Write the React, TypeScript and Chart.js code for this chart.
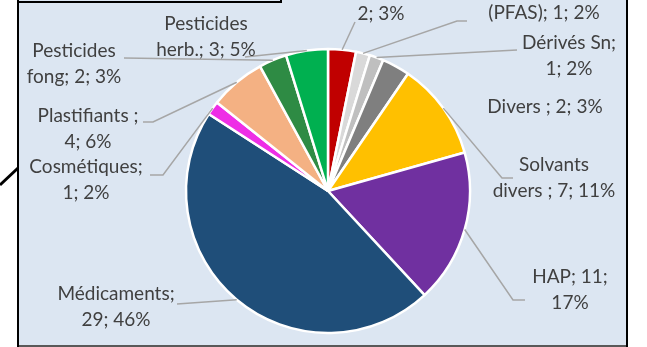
import React, { useEffect, useRef } from "react";
import { Chart, registerables } from "chart.js";

Chart.register(...registerables);

const categories = [
  "Pesticides insect.",
  "Composés perfluorés (PFAS)",
  "Dérivés Sn",
  "Divers",
  "Solvants divers",
  "HAP",
  "Médicaments",
  "Cosmétiques",
  "Plastifiants",
  "Pesticides fong",
  "Pesticides herb.",
];
const values = [2, 1, 1, 2, 7, 11, 29, 1, 4, 2, 3];
const colors = [
  "#C00000",
  "#D9D9D9",
  "#BFBFBF",
  "#7F7F7F",
  "#FFC000",
  "#7030A0",
  "#1F4E79",
  "#EE2EE6",
  "#F4B183",
  "#2E8B44",
  "#00B050",
];
const total = values.reduce((a, b) => a + b, 0);
const pct = values.map((v) => Math.round((v / total) * 100));
const labelLines: string[][] = [
  ["Pesticides insect.;", `${values[0]}; ${pct[0]}%`],
  ["Composés perfluorés", `(PFAS); ${values[1]}; ${pct[1]}%`],
  ["Dérivés Sn;", `${values[2]}; ${pct[2]}%`],
  [`Divers ; ${values[3]}; ${pct[3]}%`],
  ["Solvants", `divers ; ${values[4]}; ${pct[4]}%`],
  [`HAP; ${values[5]};`, `${pct[5]}%`],
  ["Médicaments;", `${values[6]}; ${pct[6]}%`],
  ["Cosmétiques;", `${values[7]}; ${pct[7]}%`],
  ["Plastifiants ;", `${values[8]}; ${pct[8]}%`],
  ["Pesticides", `fong; ${values[9]}; ${pct[9]}%`],
  ["Pesticides", `herb.; ${values[10]}; ${pct[10]}%`],
];

// label layout, offsets from pie centre for a reference radius of 142px
const REF_R = 142;
const labelOffsets: [number, number][] = [
  [53, -190],
  [216, -191],
  [241, -135],
  [217, -84],
  [226, -13],
  [242, 99],
  [-212, 116],
  [-242, -11],
  [-240, -62],
  [-254, -127],
  [-122, -154],
];
const leaderPoints: [number, number][][] = [
  [[27, -169]],
  [[129, -170], [139, -170]],
  [[189, -141]],
  [],
  [[174, -13], [185, -13]],
  [[185, 109], [197, 109]],
  [[-151, 113]],
  [[-165, -16], [-178, -16]],
  [[-175, -69], [-185, -69]],
  [[-204, -133]],
  [[-83, -134]],
];

const FONT = "19px Lato";
const LINE_H = 26;

const framePlugin = {
  id: "frame",
  beforeDraw(chart: any) {
    const ctx = chart.ctx as CanvasRenderingContext2D;
    const W = chart.width;
    const H = chart.height;
    ctx.save();
    ctx.fillStyle = "#ffffff";
    ctx.fillRect(0, 0, W, H);
    ctx.fillStyle = "#DCE6F2";
    ctx.fillRect(19, 0, 607, H - 2);
    ctx.fillStyle = "#595959";
    ctx.fillRect(19, H - 2, 607, 2);
    ctx.fillStyle = "#000000";
    ctx.fillRect(17, 0, 2, H);
    ctx.fillRect(626, 0, 2, H);
    ctx.strokeStyle = "#000000";
    ctx.lineWidth = 2;
    ctx.strokeRect(18, -10, 263, 12);
    ctx.lineWidth = 3;
    ctx.beginPath();
    ctx.moveTo(0, 185);
    ctx.lineTo(18, 168);
    ctx.stroke();
    ctx.restore();
  },
  afterDraw(chart: any) {
    const ctx = chart.ctx as CanvasRenderingContext2D;
    const meta = chart.getDatasetMeta(0);
    ctx.save();
    meta.data.forEach((arc: any, i: number) => {
      const p = arc.getProps(["x", "y", "startAngle", "endAngle", "outerRadius"], true);
      const s = p.outerRadius / REF_R;
      const mid = (p.startAngle + p.endAngle) / 2;
      const ax = p.x + Math.cos(mid) * p.outerRadius;
      const ay = p.y + Math.sin(mid) * p.outerRadius;
      const pts = leaderPoints[i];
      if (pts.length) {
        ctx.strokeStyle = "#A6A6A6";
        ctx.lineWidth = 1.5;
        ctx.beginPath();
        ctx.moveTo(ax, ay);
        pts.forEach(([dx, dy]) => ctx.lineTo(p.x + dx * s, p.y + dy * s));
        ctx.stroke();
      }
      const [lx, ly] = labelOffsets[i];
      const cx = p.x + lx * s;
      const cy = p.y + ly * s;
      const lines = labelLines[i];
      ctx.fillStyle = "#404040";
      ctx.font = FONT;
      ctx.textAlign = "center";
      ctx.textBaseline = "middle";
      const y0 = cy - ((lines.length - 1) * LINE_H) / 2;
      lines.forEach((t, k) => ctx.fillText(t, cx, y0 + k * LINE_H));
    });
    ctx.restore();
  },
};

export default function App() {
  const ref = useRef<HTMLCanvasElement | null>(null);
  useEffect(() => {
    if (!ref.current) return;
    const chart = new Chart(ref.current, {
      type: "pie",
      data: {
        labels: categories,
        datasets: [
          {
            data: values,
            backgroundColor: colors,
            borderColor: "#ffffff",
            borderWidth: 2.5,
            radius: 142,
          } as any,
        ],
      },
      options: {
        animation: false,
        responsive: false,
        maintainAspectRatio: false,
        layout: { padding: { left: 186, right: 177, top: 49, bottom: 14 } },
        plugins: {
          legend: { display: false },
          tooltip: { enabled: false },
        },
      },
      plugins: [framePlugin],
    });
    return () => chart.destroy();
  }, []);
  return (
    <div style={{ position: "fixed", left: 0, top: 0, width: 647, height: 347 }}>
      <canvas ref={ref} width={647} height={347} style={{ width: 647, height: 347, display: "block" }} />
    </div>
  );
}
